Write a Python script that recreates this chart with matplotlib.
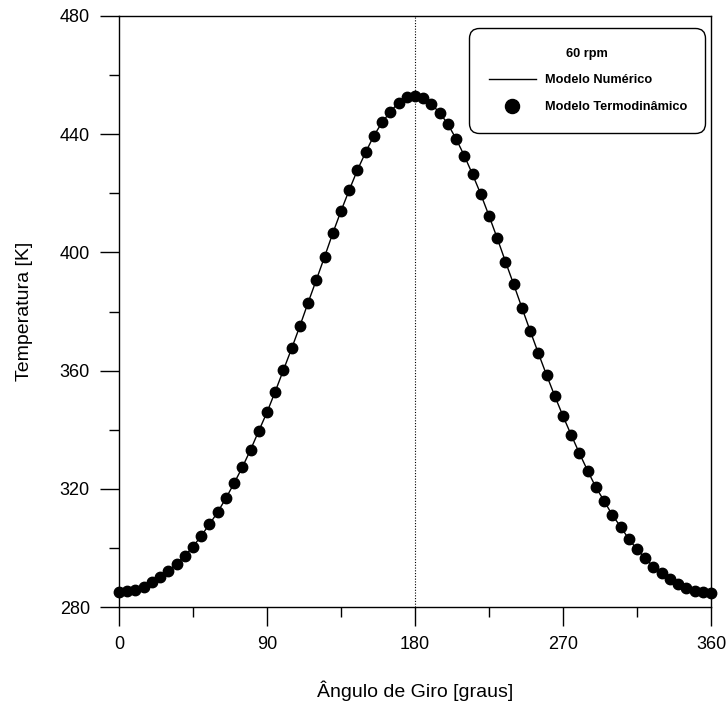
import numpy as np
import matplotlib
matplotlib.use("Agg")
from matplotlib import pyplot as plt
from matplotlib.ticker import MultipleLocator

plt.rcParams['font.family'] = ['Liberation Sans', 'DejaVu Sans']

# angulo de giro (graus), um ponto a cada 5 graus
angulo = np.arange(0, 365, 5)

# temperatura [K]
temperatura = [285.0, 285.3, 285.9, 286.9, 288.5, 290.1, 292.1, 294.6, 297.3, 300.4,
               304.1, 308.0, 312.1, 316.8, 321.9, 327.3, 333.2, 339.6, 345.9, 352.9,
               360.2, 367.5, 375.1, 383.0, 390.7, 398.5, 406.5, 414.0, 421.1, 427.9,
               433.9, 439.5, 444.0, 447.6, 450.7, 452.5, 453.0, 452.4, 450.1, 447.3,
               443.4, 438.4, 432.7, 426.4, 419.7, 412.4, 404.8, 396.9, 389.2, 381.3,
               373.5, 365.9, 358.5, 351.4, 344.6, 338.2, 332.0, 326.1, 320.5, 315.9,
               311.1, 307.2, 303.0, 299.5, 296.5, 293.6, 291.4, 289.4, 287.7, 286.3,
               285.5, 285.0, 284.9]

x_ticks = [0, 90, 180, 270, 360]
y_ticks = [280, 320, 360, 400, 440, 480]

fig = plt.figure(figsize=(7.28, 7.15), dpi=100)
ax = fig.add_axes([119/728, 108/715, 592/728, 591/715])

ax.axvline(180, color="black", linestyle=(0, (1, 1.5)), linewidth=0.8, zorder=1)
ax.plot(angulo, temperatura, color="black", linewidth=1.0, label="Modelo Numérico", zorder=2)
ax.plot(angulo, temperatura, linestyle="none", marker="o", markersize=7.5,
        color="black", label="Modelo Termodinâmico", zorder=3, clip_on=False)

ax.set_xlim(0, 360)
ax.set_ylim(280, 480)
ax.set_xticks(x_ticks)
ax.set_yticks(y_ticks)
ax.xaxis.set_minor_locator(MultipleLocator(45))
ax.yaxis.set_minor_locator(MultipleLocator(20))
ax.tick_params(which="major", direction="out", length=14, width=1, labelsize=13, pad=7)
ax.tick_params(which="minor", direction="out", length=7, width=1)
for s in ax.spines.values():
    s.set_linewidth(1.0)

ax.set_xlabel("Ângulo de Giro [graus]", fontsize=14)
ax.set_ylabel("Temperatura [K]", fontsize=14)
ax.xaxis.set_label_coords(0.5, -0.125)
ax.yaxis.set_label_coords(-0.145, 0.5)

leg = ax.legend(loc="upper left", bbox_to_anchor=(0.591, 0.5, 0.399, 0.48), mode="expand",
                title="60 rpm", prop={"size": 9.2, "weight": "bold"}, title_fontsize=9.2,
                frameon=True, fancybox=True, framealpha=1, edgecolor="black",
                handlelength=3.7, handletextpad=0.7, borderpad=1.55,
                labelspacing=1.15, markerscale=1.35, borderaxespad=0)
leg.get_title().set_fontweight("bold")
leg.get_frame().set_linewidth(1.0)
leg.get_frame().set_boxstyle("round", pad=0, rounding_size=0.8)

plt.savefig("out.png", dpi=100)
